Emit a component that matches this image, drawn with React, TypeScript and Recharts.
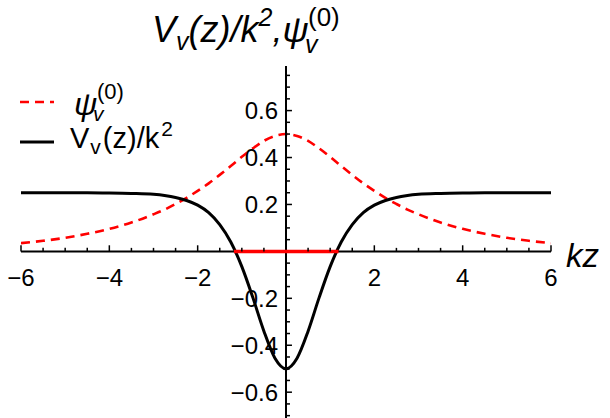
import { LineChart, Line, XAxis, YAxis, ReferenceLine } from "recharts";

// sample points along kz
const zValues = [
  -6, -5.5, -5, -4.5, -4, -3.5, -3, -2.75, -2.5, -2.25, -2, -1.75, -1.5, -1.25, -1,
  -0.75, -0.5, -0.25, 0, 0.25, 0.5, 0.75, 1, 1.25, 1.5, 1.75, 2, 2.25, 2.5, 2.75, 3,
  3.5, 4, 4.5, 5, 5.5, 6,
];

// V_v(z)/k^2
const potentialValues = [
  0.25, 0.25, 0.25, 0.25, 0.249, 0.247, 0.243, 0.238, 0.23, 0.217, 0.197, 0.165, 0.114,
  0.04, -0.065, -0.197, -0.34, -0.455, -0.5, -0.455, -0.34, -0.197, -0.065, 0.04, 0.114,
  0.165, 0.197, 0.217, 0.23, 0.238, 0.243, 0.247, 0.249, 0.25, 0.25, 0.25, 0.25,
];

// psi_v^(0)
const psiValues = [
  0.035, 0.045, 0.058, 0.075, 0.096, 0.123, 0.158, 0.178, 0.202, 0.228, 0.258, 0.29,
  0.326, 0.364, 0.403, 0.439, 0.471, 0.492, 0.5, 0.492, 0.471, 0.439, 0.403, 0.364,
  0.326, 0.29, 0.258, 0.228, 0.202, 0.178, 0.158, 0.123, 0.096, 0.075, 0.058, 0.045, 0.035,
];

// zero-energy level (red segment on the axis)
const levelZ = [-1.18, 1.19];
const levelE = [0, 0];

const xMajorTicks = [-6, -4, -2, 2, 4, 6];
const xMinorTicks = [
  -5.5, -5, -4.5, -3.5, -3, -2.5, -1.5, -1, -0.5, 0.5, 1, 1.5, 2.5, 3, 3.5, 4.5, 5, 5.5,
];
const yMajorTicks = [-0.6, -0.4, -0.2, 0.2, 0.4, 0.6];
const yMinorTicks = [
  -0.7, -0.65, -0.55, -0.5, -0.45, -0.35, -0.3, -0.25, -0.15, -0.1, -0.05, 0.05, 0.1,
  0.15, 0.25, 0.3, 0.35, 0.45, 0.5, 0.55, 0.65, 0.7, 0.75,
];

const curveData = zValues.map((z, i) => ({ z, v: potentialValues[i], psi: psiValues[i] }));

const fmt = (n: number) => (n < 0 ? "\u2212" + String(Math.abs(n)) : String(n));

const FONT = "'Liberation Sans', Arial, sans-serif";
const tickFont = { fontSize: 24, fill: "#000", fontFamily: FONT };

export default function App() {
  return (
    <div style={{ position: "absolute", left: 0, top: 0, width: 610, height: 418, background: "#fff" }}>
      <LineChart
        width={610}
        height={418}
        data={curveData}
        margin={{ top: 66, right: 59, bottom: 0, left: 21 }}
      >
        <XAxis type="number" dataKey="z" domain={[-6, 6]} allowDataOverflow hide />
        <YAxis type="number" domain={[-0.71, 0.79]} allowDataOverflow hide />

        <Line
          dataKey="psi"
          type="monotone"
          stroke="#ff0000"
          strokeWidth={2.6}
          strokeDasharray="9 6"
          dot={false}
          isAnimationActive={false}
        />
        <Line
          dataKey="v"
          type="monotone"
          stroke="#000"
          strokeWidth={3}
          dot={false}
          isAnimationActive={false}
        />

        <ReferenceLine y={0} stroke="#000" strokeWidth={2} />
        <ReferenceLine x={0} stroke="#000" strokeWidth={2} />
        <ReferenceLine
          segment={[
            { x: levelZ[0], y: levelE[0] },
            { x: levelZ[1], y: levelE[1] },
          ]}
          stroke="#ff0000"
          strokeWidth={3.5}
        />

        {xMinorTicks.map((t) => (
          <ReferenceLine
            key={`xm${t}`}
            segment={[{ x: t, y: 0 }, { x: t, y: 0.015 }]}
            stroke="#000"
            strokeWidth={1.5}
          />
        ))}
        {xMajorTicks.map((t) => (
          <ReferenceLine
            key={`xM${t}`}
            segment={[{ x: t, y: 0 }, { x: t, y: 0.026 }]}
            stroke="#000"
            strokeWidth={1.5}
            label={{ value: fmt(t), position: "bottom", offset: 18, ...tickFont }}
          />
        ))}
        {yMinorTicks.map((t) => (
          <ReferenceLine
            key={`ym${t}`}
            segment={[{ x: 0, y: t }, { x: 0.09, y: t }]}
            stroke="#000"
            strokeWidth={1.5}
          />
        ))}
        {yMajorTicks.map((t) => (
          <ReferenceLine
            key={`yM${t}`}
            segment={[{ x: 0, y: t }, { x: 0.135, y: t }]}
            stroke="#000"
            strokeWidth={1.5}
            label={{ value: fmt(t), position: "left", offset: 8, ...tickFont }}
          />
        ))}
      </LineChart>

      <svg
        width={610}
        height={418}
        style={{ position: "absolute", left: 0, top: 0, pointerEvents: "none" }}
        fontFamily={FONT}
      >
        {/* title */}
        <text x={152} y={42} fontSize={36} fontStyle="italic">
          V<tspan fontSize={25} dy={8}>v</tspan>
          <tspan dy={-8}>(z)/k</tspan>
          <tspan fontSize={25} dy={-16}>2</tspan>
          <tspan dy={16}>,ψ</tspan>
        </text>
        <text x={305} y={53} fontSize={25} fontStyle="italic">v</text>
        <text x={308} y={26} fontSize={26}>(0)</text>

        {/* axis label */}
        <text x={566} y={267} fontSize={33} fontStyle="italic">kz</text>

        {/* legend */}
        <line x1={20} y1={102} x2={54} y2={102} stroke="#ff0000" strokeWidth={2.6} strokeDasharray="9 6" />
        <text x={74} y={115} fontSize={32} fontStyle="italic">ψ</text>
        <text x={93} y={121} fontSize={21} fontStyle="italic">v</text>
        <text x={97} y={99} fontSize={22}>(0)</text>

        <line x1={20} y1={142} x2={54} y2={142} stroke="#000" strokeWidth={3} />
        <text x={70} y={148} fontSize={29}>
          V<tspan fontSize={21} dx={1} dy={6}>v</tspan>
          <tspan dx={2} dy={-6}>(z)/k</tspan>
          <tspan fontSize={21} dx={2} dy={-12}>2</tspan>
        </text>
      </svg>
    </div>
  );
}
